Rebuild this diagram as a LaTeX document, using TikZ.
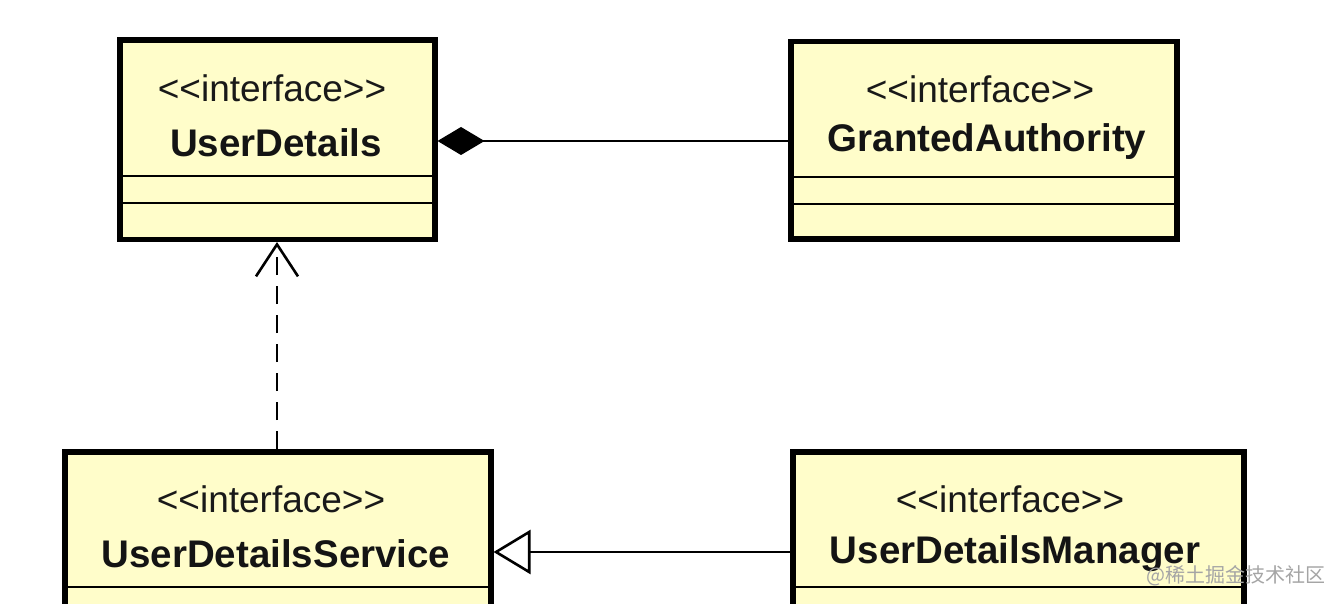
\documentclass[tikz,border=0pt]{standalone}
\usepackage{fontspec}
\setmainfont{Liberation Sans}
\newfontfamily\cjk{Noto Sans CJK SC}
\usetikzlibrary{arrows.meta}
\definecolor{umlfill}{RGB}{255,253,202}
\definecolor{wmgray}{RGB}{165,165,165}
\tikzset{
  umlbox/.style={draw=black, line width=5.5, fill=umlfill, inner sep=0, anchor=north west},
  stereo/.style={font=\fontsize{37}{40}\selectfont, inner sep=0, text=black!90},
  cname/.style={font=\fontsize{38.5}{42}\selectfont\bfseries, inner sep=0, text=black!92},
  compline/.style={line width=2.2, black},
  conn/.style={line width=2.6, black},
}
\begin{document}
\begin{tikzpicture}[x=1pt,y=-1pt]
\useasboundingbox (0,0) rectangle (1324,604);
\clip (0,0) rectangle (1324,604);
\fill[white] (0,0) rectangle (1324,604);
% boxes (anchor = outer edge)
\node[umlbox, minimum width=315, minimum height=199] (ud) at (117,37.5) {};
\node[umlbox, minimum width=386, minimum height=197] (ga) at (788,39) {};
\node[umlbox, minimum width=426, minimum height=201] (uds) at (62,449) {};
\node[umlbox, minimum width=451, minimum height=201] (udm) at (790,449) {};
% compartments
\draw[compline] (ud.west |- 0,176) -- (ud.east |- 0,176);
\draw[compline] (ud.west |- 0,203) -- (ud.east |- 0,203);
\draw[compline] (ga.west |- 0,177) -- (ga.east |- 0,177);
\draw[compline] (ga.west |- 0,204) -- (ga.east |- 0,204);
\draw[compline] (uds.west |- 0,587) -- (uds.east |- 0,587);
\draw[compline] (udm.west |- 0,587) -- (udm.east |- 0,587);
% texts
\node[stereo] (udst) at (272,88) {<{}<interface>{}>};
\node[cname] (udnm) at (276,143) {UserDetails};
\node[stereo] (gast) at (980,89) {<{}<interface>{}>};
\node[cname] (ganm) at (987,142) {GrantedAuthority};
\node[stereo] (udsst) at (271,499) {<{}<interface>{}>};
\node[cname] (udsnm) at (276,554) {UserDetailsService};
\node[stereo] (udmst) at (1010,499) {<{}<interface>{}>};
\node[cname] (udmnm) at (1015,554) {UserDetailsManager};
% connectors
\draw[conn, -{Diamond[length=47,width=28,fill=black]}] (ga.west |- 0,141) -- (ud.east |- 0,141);
\draw[conn, dash pattern=on 18 off 11, -{Straight Barb[length=32,width=42,line width=2.6]}] (uds.north -| 277,0) -- (ud.south -| 277,0);
\draw[conn, -{Triangle[open,length=37,width=44,fill=white,line width=2.6]}] (udm.west |- 0,552) -- (uds.east |- 0,552);
% watermark
\node[font=\cjk\fontsize{20}{22}\selectfont, text=wmgray, inner sep=0, anchor=west] (wm) at (1146,576) {@稀土掘金技术社区};
\end{tikzpicture}
\end{document}
